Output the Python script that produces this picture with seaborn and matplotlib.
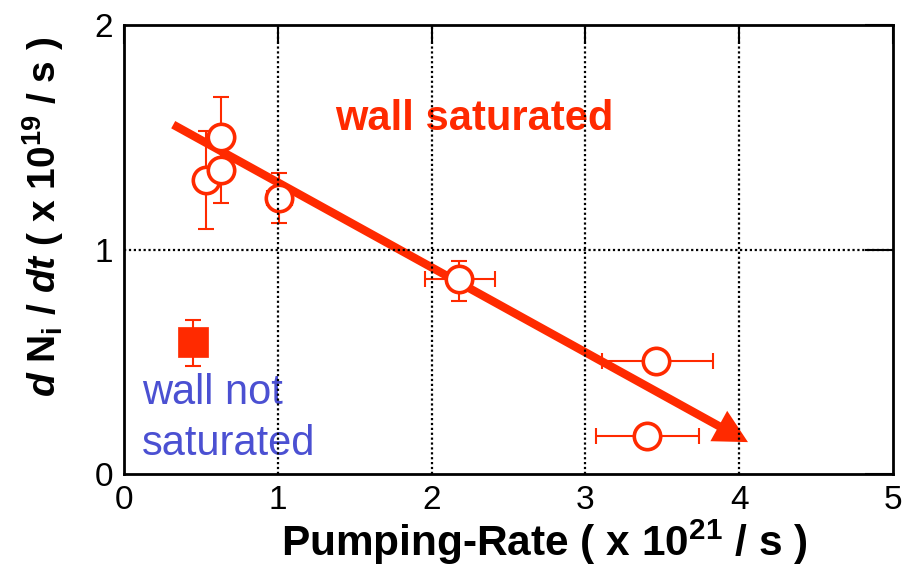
import numpy as np
import pandas as pd
import seaborn as sns
import matplotlib
matplotlib.use("Agg")
import matplotlib.pyplot as plt

# ---- data ----
sat_x = [0.53, 0.63, 0.63, 1.01, 2.18, 3.46, 3.40]
sat_y = [1.31, 1.50, 1.355, 1.23, 0.87, 0.505, 0.17]
sat_yerr_lo = [0.22, 0.18, 0.15, 0.11, 0.10, 0.0, 0.0]
sat_yerr_hi = [0.22, 0.18, 0.13, 0.11, 0.08, 0.0, 0.0]
sat_xerr_lo = [0.0, 0.0, 0.0, 0.08, 0.22, 0.35, 0.33]
sat_xerr_hi = [0.0, 0.0, 0.0, 0.08, 0.23, 0.37, 0.34]

unsat_x = [0.45]
unsat_y = [0.59]
unsat_yerr_lo = [0.11]
unsat_yerr_hi = [0.095]

arrow_x = [0.32, 4.057]
arrow_y = [1.556, 0.142]

x_ticks = [0, 1, 2, 3, 4, 5]
y_ticks = [0, 1, 2]

RED = "#FF2A00"
BLUE = "#4B50D2"

sns.set_theme(style="white")
plt.rcParams["font.family"] = ["Liberation Sans", "DejaVu Sans"]
plt.rcParams["mathtext.fontset"] = "custom"
plt.rcParams["mathtext.rm"] = "Liberation Sans:bold"
plt.rcParams["mathtext.bf"] = "Liberation Sans:bold"
plt.rcParams["mathtext.it"] = "Liberation Sans:bold:italic"

fig = plt.figure(figsize=(9.19, 5.67), dpi=100)
ax = fig.add_axes([124/919, 1-474/567, (893-124)/919, (474-25)/567])

ax.set_xlim(0, 5)
ax.set_ylim(0, 2)

# grid lines (dotted, on top)
for xv in x_ticks[1:-1]:
    ax.axvline(xv, color="black", ls=(0, (1, 1.2)), lw=1.6, zorder=10)
for yv in y_ticks[1:-1]:
    ax.axhline(yv, color="black", ls=(0, (1, 1.2)), lw=1.6, zorder=10)

# arrow
ax.annotate("", xy=(arrow_x[1], arrow_y[1]), xytext=(arrow_x[0], arrow_y[0]),
            arrowprops=dict(width=6, headwidth=25, headlength=24,
                            facecolor=RED, edgecolor=RED, lw=0,
                            shrink=0), zorder=3)

# error bars
ax.errorbar(sat_x, sat_y, yerr=[sat_yerr_lo, sat_yerr_hi],
            xerr=[sat_xerr_lo, sat_xerr_hi], fmt="none", ecolor=RED,
            elinewidth=1.5, capsize=6, capthick=1.5, zorder=4)
ax.errorbar(unsat_x, unsat_y, yerr=[unsat_yerr_lo, unsat_yerr_hi],
            fmt="none", ecolor=RED, elinewidth=1.5, capsize=6, capthick=1.5, zorder=4)

df_sat = pd.DataFrame({"x": sat_x, "y": sat_y})
df_unsat = pd.DataFrame({"x": unsat_x, "y": unsat_y})
sns.scatterplot(data=df_sat, x="x", y="y", ax=ax, marker="o", s=19**2,
                facecolor="white", edgecolor=RED, linewidth=2.6, zorder=5)
sns.scatterplot(data=df_unsat, x="x", y="y", ax=ax, marker="s", s=22**2,
                color=RED, edgecolor=RED, linewidth=0.5, zorder=5)

# annotations
ax.text(2.28, 1.58, "wall saturated", color=RED, fontsize=30, fontweight="bold",
        ha="center", va="center", zorder=6)
ax.text(0.117, 0.311, "wall not", color=BLUE, fontsize=30, ha="left",
        va="baseline", zorder=6)
ax.text(0.117, 0.084, "saturated", color=BLUE, fontsize=30, ha="left",
        va="baseline", zorder=6)

ax.set_xticks(x_ticks)
ax.set_yticks(y_ticks)
ax.set_xticklabels([str(t) for t in x_ticks])
ax.set_yticklabels([str(t) for t in y_ticks])
ax.tick_params(axis="both", direction="in", top=True, right=True,
               labelsize=24, colors="black", width=1.5, pad=8)
ax.tick_params(axis="x", length=14)
ax.tick_params(axis="y", length=20)
for s in ax.spines.values():
    s.set_color("black")
    s.set_linewidth(2)
    s.set_zorder(11)

ax.set_xlabel(r"Pumping-Rate ( x 10$^{21}$ / s )", fontsize=30.5,
              fontweight="bold", color="black", labelpad=1)
ax.set_ylabel(r"$d$ N$_\mathrm{i}$ / $dt$ ( x 10$^{19}$ / s )", fontsize=28,
              fontweight="bold", color="black")
ax.xaxis.label.set_x(0.546)
ax.yaxis.set_label_coords(-0.075, 0.572)

fig.savefig("out.png", dpi=100, facecolor="white")
